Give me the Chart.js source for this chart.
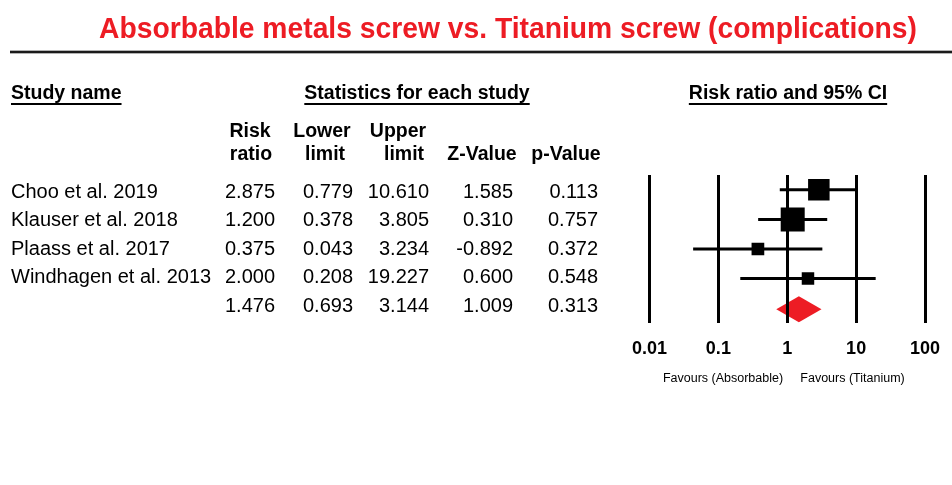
<!DOCTYPE html>
<html><head><meta charset="utf-8">
<script src="https://cdn.jsdelivr.net/npm/chart.js@4.4.1/dist/chart.umd.min.js"></script>
<style>html,body{margin:0;padding:0;background:#fff;}#wrap{width:952px;height:485px;position:relative;background:#fff}</style>
</head><body><div id="wrap"><canvas id="c" width="952" height="485"></canvas></div>
<script>
// ---- data ----
const titleText = 'Absorbable metals screw vs. Titanium screw (complications)';
const studies = ['Choo et al. 2019', 'Klauser et al. 2018', 'Plaass et al. 2017', 'Windhagen et al. 2013'];
const riskRatio = [2.875, 1.200, 0.375, 2.000];
const lowerLimit = [0.779, 0.378, 0.043, 0.208];
const upperLimit = [10.610, 3.805, 3.234, 19.227];
const zValue = [1.585, 0.310, -0.892, 0.600];
const pValue = [0.113, 0.757, 0.372, 0.548];
const weights = [34.1, 42.5, 11.9, 11.5];           // relative weights (box area)
const pooledStats = [1.476, 0.693, 3.144, 1.009, 0.313]; // RR, lower, upper, Z, p
const tickValues = [0.01, 0.1, 1, 10, 100];
const tickLabels = ['0.01', '0.1', '1', '10', '100'];
const favourLabels = ['Favours (Absorbable)', 'Favours (Titanium)'];

// ---- styling / layout ----
const FONT = '"Liberation Sans", Arial, Helvetica, sans-serif';
const RED = '#ed1c24';
const BOX = 24 / Math.sqrt(42.5);

const forestPlugin = {
  id: 'forest',
  beforeDraw(chart) {
    const c = chart.ctx, xs = chart.scales.x, ys = chart.scales.y;
    const yc = ys.getPixelForValue(studies.length + 1) + 1;
    const xl = xs.getPixelForValue(pooledStats[1]);
    const xm = xs.getPixelForValue(pooledStats[0]);
    const xr = xs.getPixelForValue(pooledStats[2]);
    c.save();
    c.fillStyle = RED;
    c.beginPath();
    c.moveTo(xl, yc); c.lineTo(xm, yc - 13); c.lineTo(xr, yc); c.lineTo(xm, yc + 13);
    c.closePath(); c.fill();
    c.restore();
  },
  afterDraw(chart) {
    const c = chart.ctx;
    c.save();
    // title
    c.font = 'bold 29px ' + FONT;
    const tw = c.measureText(titleText).width;
    c.translate(508, 38);
    c.scale(818 / tw, 1);
    c.textAlign = 'center';
    c.textBaseline = 'alphabetic';
    c.fillStyle = RED;
    c.fillText(titleText, 0, 0);
    c.restore();

    c.save();
    // rule under title
    c.fillStyle = 'rgba(0,0,0,0.3)';
    c.fillRect(10, 50, 942, 4);
    c.fillStyle = '#1a1a1a';
    c.fillRect(10, 51, 942, 2);

    c.fillStyle = '#000';
    c.textBaseline = 'alphabetic';
    // underlined section headers
    c.font = 'bold 19.5px ' + FONT;
    const heads = [['Study name', 11, 'left'], ['Statistics for each study', 417, 'center'], ['Risk ratio and 95% CI', 788, 'center']];
    heads.forEach(([t, x, al]) => {
      c.textAlign = al;
      c.fillText(t, x, 99);
      const w = c.measureText(t).width;
      const x0 = al === 'left' ? x : x - w / 2;
      c.fillRect(x0, 103, w, 2);
    });
    // column headers
    const colHeads = [['Risk', 250, 137], ['ratio', 251, 160], ['Lower', 322, 137], ['limit', 325, 160],
                      ['Upper', 398, 137], ['limit', 404, 160], ['Z-Value', 482, 160], ['p-Value', 566, 160]];
    c.textAlign = 'center';
    colHeads.forEach(([t, x, y]) => c.fillText(t, x, y));

    // rows
    c.font = '20px ' + FONT;
    const colRight = [275, 353, 429, 513, 598];
    const baseY = 198, gap = 28.4;
    studies.forEach((s, i) => {
      const y = baseY + i * gap;
      c.textAlign = 'left';
      c.fillText(s, 11, y);
      c.textAlign = 'right';
      [riskRatio[i], lowerLimit[i], upperLimit[i], zValue[i], pValue[i]].forEach((v, k) => {
        c.fillText(v.toFixed(3), colRight[k], y);
      });
    });
    const py = baseY + studies.length * gap;
    c.textAlign = 'right';
    pooledStats.forEach((v, k) => c.fillText(v.toFixed(3), colRight[k], py));

    // favours labels
    c.font = '12.5px ' + FONT;
    c.textAlign = 'center';
    c.fillText(favourLabels[0], 723, 382);
    c.fillText(favourLabels[1], 852.5, 382);
    c.restore();
  }
};

new Chart(document.getElementById('c'), {
  type: 'scatter',
  data: {
    datasets: [
      {
        label: 'Risk ratio',
        data: riskRatio.map((v, i) => ({ x: v, y: i + 1 })),
        pointStyle: 'rect',
        pointRadius: weights.map(w => Math.sqrt(w) * BOX / Math.SQRT2),
        pointBackgroundColor: '#000',
        pointBorderWidth: 0,
        order: 0
      },
      ...studies.map((s, i) => ({
        label: s + ' CI',
        data: [{ x: lowerLimit[i], y: i + 1 }, { x: upperLimit[i], y: i + 1 }],
        showLine: true,
        borderColor: '#000',
        borderWidth: 3,
        pointRadius: 0,
        order: 1
      }))
    ]
  },
  options: {
    responsive: false,
    animation: false,
    events: [],
    layout: { padding: { left: 649.5, right: 27, top: 175, bottom: 125.4 } },
    plugins: { legend: { display: false }, tooltip: { enabled: false }, title: { display: false } },
    scales: {
      x: {
        type: 'logarithmic',
        min: 0.01, max: 100,
        afterBuildTicks: ax => { ax.ticks = tickValues.map(v => ({ value: v })); },
        afterFit: ax => { ax.height = 36.6; ax.paddingLeft = 0; ax.paddingRight = 0; },
        ticks: {
          callback: (v, i) => tickLabels[i],
          font: { family: FONT, size: 18, weight: 'bold' },
          color: '#000', padding: 15, autoSkip: false, maxRotation: 0
        },
        grid: { color: '#000', lineWidth: 3, drawTicks: false },
        border: { display: false }
      },
      y: { type: 'linear', min: 0.5, max: 5.5, reverse: true, display: false }
    }
  },
  plugins: [forestPlugin]
});
</script>
</body></html>
